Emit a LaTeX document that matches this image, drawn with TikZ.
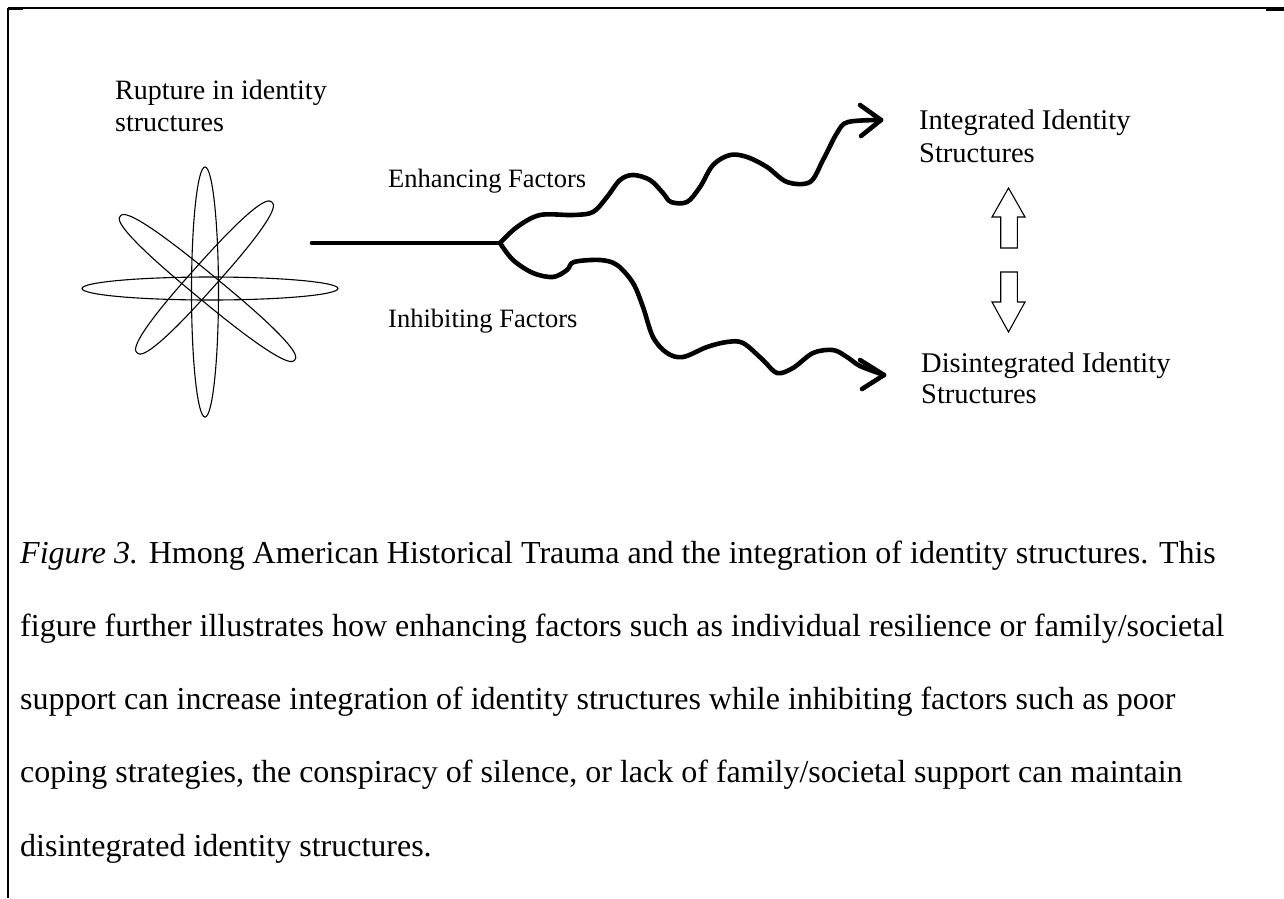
\documentclass[tikz,border=0pt]{standalone}
\usepackage{fontspec}
\setmainfont{Liberation Serif}
\usetikzlibrary{calc}
\begin{document}
\begin{tikzpicture}[x=1pt,y=1pt,
  lbl/.style={anchor=base west, inner sep=0pt, align=left},
  captext/.style={anchor=base west, inner sep=0pt, font=\fontsize{32}{36}\selectfont},
  starline/.style={line width=1.1pt},
  wave/.style={line width=4.6pt, line cap=round, line join=round},
  hollow/.style={line width=1.1pt, fill=white, line join=miter}]
\fill[white] (0,0) rectangle (1284,-898);
\useasboundingbox (0,0) rectangle (1284,-898);
% border
\draw[line width=1.3pt] (8,-8) -- (1284,-8);
\draw[line width=2.3pt] (8,-8) -- (8,-898);
\draw[line width=2pt] (8,-9) -- (23,-9);
\draw[line width=2pt] (1266,-9.5) -- (1284,-9.5);
% star
\draw[starline] (205,-292) ellipse (13.5 and 125);
\draw[starline] (210,-288.5) ellipse (128 and 11.5);
\begin{scope}[shift={(207.5,-288)}, rotate=-39.5]
\draw[starline] plot[domain=0.5:360.5, samples=101] ({113*sign(cos(\x))*abs(cos(\x))^0.8},{13*sign(sin(\x))*abs(sin(\x))^0.8});
\end{scope}
\begin{scope}[shift={(204.5,-277.5)}, rotate=48.2]
\draw[starline] plot[domain=0.5:360.5, samples=101] ({101*sign(cos(\x))*abs(cos(\x))^0.8},{13*sign(sin(\x))*abs(sin(\x))^0.8});
\end{scope}
% labels
\node[lbl, font=\fontsize{28}{32}\selectfont] (rupture) at (115,-131) {Rupture in identity\\structures};
\node[lbl, font=\fontsize{26.5}{32}\selectfont] (enh) at (388,-187) {Enhancing Factors};
\node[lbl, font=\fontsize{26.5}{32}\selectfont] (inh) at (388,-327) {Inhibiting Factors};
\node[lbl, font=\fontsize{28.5}{33}\selectfont] (integ) at (919,-162) {Integrated Identity\\Structures};
\node[lbl, font=\fontsize{28.5}{31}\selectfont] (disint) at (921,-403) {Disintegrated Identity\\Structures};
% connectors
\coordinate (starR) at (312,-243);
\coordinate (branch) at (500,-243);
\coordinate (enhTip) at (881,-120);
\coordinate (inhTip) at (884,-375);
\draw[wave] (starR) -- (branch);
\draw[wave] plot[smooth, tension=0.55] coordinates {(branch) (517,-227) (540,-215) (573,-215) (593,-212) (607,-197) (620,-180) (633,-175) (650,-180) (663,-193) (671,-202) (687,-202) (700,-187) (713,-165) (730,-155) (747,-157) (767,-167) (787,-182) (810,-182) (823,-160) (837,-133) (848,-122) (enhTip)};
\draw[wave] ($(enhTip)+(-21,15)$) -- (enhTip) -- ($(enhTip)+(-20,-16)$);
\draw[wave] plot[smooth, tension=0.55] coordinates {(branch) (513,-260) (533,-273) (553,-277) (567,-270) (574,-262) (600,-260) (617,-265) (633,-283) (643,-307) (653,-337) (667,-353) (683,-357) (707,-347) (727,-342) (743,-343) (763,-360) (777,-373) (793,-368) (813,-353) (833,-350) (847,-357) (860,-366) (inhTip)};
\draw[wave] ($(inhTip)+(-24,15)$) -- (inhTip) -- ($(inhTip)+(-22,-14)$);
% hollow arrows
\draw[hollow] (1008.5,-188) -- (1025,-217) -- (1017.3,-217) -- (1017.3,-248) -- (1000.7,-248) -- (1000.7,-217) -- (992,-217) -- cycle;
\draw[hollow] (1008.5,-332) -- (1025,-302) -- (1017.3,-302) -- (1017.3,-272) -- (1000.7,-272) -- (1000.7,-302) -- (992,-302) -- cycle;
% caption
\node[captext] (cap1) at (20,-563) {\textit{Figure 3.} Hmong American Historical Trauma and the integration of identity structures. This};
\node[captext] (cap2) at (20,-636.25) {figure further illustrates how enhancing factors such as individual resilience or family/societal};
\node[captext] (cap3) at (20,-709.5) {support can increase integration of identity structures while inhibiting factors such as poor};
\node[captext] (cap4) at (20,-782.75) {coping strategies, the conspiracy of silence, or lack of family/societal support can maintain};
\node[captext] (cap5) at (20,-856) {disintegrated identity structures.};
\end{tikzpicture}
\end{document}
